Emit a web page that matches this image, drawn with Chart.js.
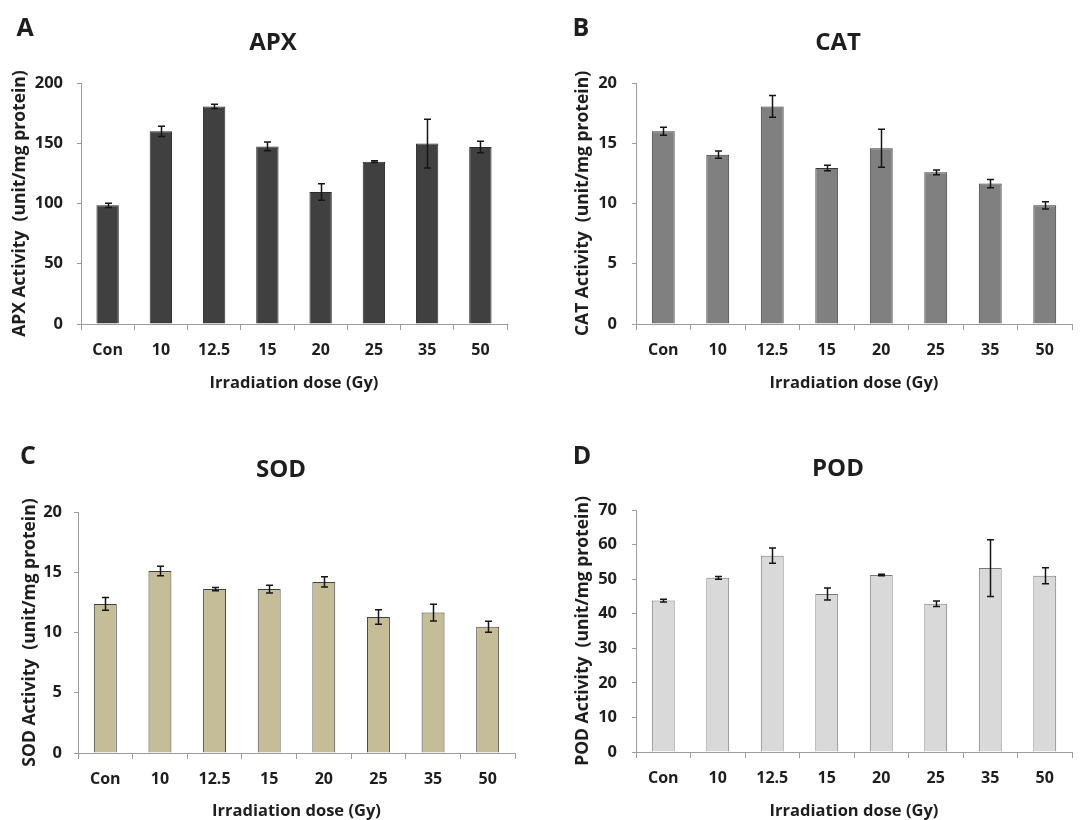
<!DOCTYPE html>
<html>
<head>
<meta charset="utf-8">
<script src="https://cdn.jsdelivr.net/npm/chart.js@4/dist/chart.umd.min.js"></script>
<style>
  html, body { margin: 0; padding: 0; background: #ffffff; }
  #wrap { position: relative; width: 1080px; height: 820px; overflow: hidden; background: #fff; }
  canvas { position: absolute; }
  .lbl { position: absolute; font-family: "Open Sans", "Noto Sans", sans-serif; font-weight: bold; color: #1e1e1e; transform: translate(-50%, -50%); white-space: nowrap; line-height: 1; }
  .letter { font-size: 25px; }
  .ttl { font-size: 24px; }
</style>
</head>
<body>
<div id="wrap">
  <canvas id="cA" width="540" height="410" style="left:0;top:0"></canvas>
  <canvas id="cB" width="540" height="410" style="left:540px;top:0"></canvas>
  <canvas id="cC" width="540" height="410" style="left:0;top:410px"></canvas>
  <canvas id="cD" width="540" height="410" style="left:540px;top:410px"></canvas>
  <div class="lbl letter" style="left:25px;top:26px">A</div>
  <div class="lbl ttl" style="left:273px;top:41px">APX</div>
  <div class="lbl letter" style="left:581px;top:26px">B</div>
  <div class="lbl ttl" style="left:838px;top:41px">CAT</div>
  <div class="lbl letter" style="left:28px;top:454px">C</div>
  <div class="lbl ttl" style="left:281px;top:468px">SOD</div>
  <div class="lbl letter" style="left:582px;top:454px">D</div>
  <div class="lbl ttl" style="left:838px;top:467px">POD</div>
</div>
<script>
// ---- data ----
const categories = ['Con', '10', '12.5', '15', '20', '25', '35', '50'];
const xAxisTitle = 'Irradiation dose (Gy)';

const apxValues = [98.5, 159.9, 180.6, 147.4, 109.5, 134.7, 149.7, 146.9];
const apxErrors = [1.8, 4.3, 1.8, 3.6, 6.8, 0.7, 20.3, 4.8];
const apxTicks = [0, 200, 50];

const catValues = [16.0, 14.05, 18.06, 12.95, 14.58, 12.59, 11.65, 9.85];
const catErrors = [0.33, 0.3, 0.9, 0.23, 1.58, 0.2, 0.35, 0.3];
const catTicks = [0, 20, 5];

const sodValues = [12.37, 15.1, 13.6, 13.6, 14.2, 11.29, 11.65, 10.48];
const sodErrors = [0.53, 0.4, 0.14, 0.33, 0.43, 0.6, 0.7, 0.46];
const sodTicks = [0, 20, 5];

const podValues = [43.8, 50.4, 56.8, 45.7, 51.2, 42.9, 53.2, 51.0];
const podErrors = [0.4, 0.4, 2.2, 1.75, 0.2, 0.8, 8.2, 2.3];
const podTicks = [0, 70, 10];

// ---- error bar plugin ----
const errorBars = {
  id: 'errorBars',
  afterDatasetsDraw(chart, args, opts) {
    const errs = opts.errors || [];
    const vals = chart.data.datasets[0].data;
    const meta = chart.getDatasetMeta(0);
    const ys = chart.scales.y;
    const ctx = chart.ctx;
    ctx.save();
    ctx.strokeStyle = '#151515';
    ctx.lineWidth = 1.5;
    meta.data.forEach((bar, i) => {
      const e = errs[i] || 0;
      const x = Math.round(bar.x) + 0.5;
      const yT = ys.getPixelForValue(vals[i] + e);
      const yB = ys.getPixelForValue(vals[i] - e);
      ctx.beginPath();
      ctx.moveTo(x, yT); ctx.lineTo(x, yB);
      ctx.moveTo(x - 3.5, yT); ctx.lineTo(x + 3.5, yT);
      ctx.moveTo(x - 3.5, yB); ctx.lineTo(x + 3.5, yB);
      ctx.stroke();
    });
    ctx.restore();
  }
};

const FONT = '"Open Sans", "Noto Sans", sans-serif';
const TXT = '#1e1e1e';
const AXC = '#9c9c9c';

function makeChart(id, values, errors, ticks, yTitle, colors, geo) {
  new Chart(document.getElementById(id), {
    type: 'bar',
    data: {
      labels: categories,
      datasets: [{
        data: values,
        backgroundColor: colors.bg,
        borderColor: colors.border,
        borderWidth: 1,
        borderSkipped: 'bottom',
        categoryPercentage: 1.0,
        barPercentage: 0.42
      }]
    },
    plugins: [errorBars],
    options: {
      responsive: false,
      animation: false,
      devicePixelRatio: 1,
      layout: { padding: { left: 0, top: geo.top, right: 540 - geo.right, bottom: 0 } },
      plugins: {
        legend: { display: false },
        tooltip: { enabled: false },
        title: { display: false },
        errorBars: { errors: errors }
      },
      scales: {
        x: {
          offset: true,
          grid: { display: true, drawOnChartArea: false, drawTicks: true, tickLength: 6, color: AXC, offset: true },
          border: { display: true, color: AXC, width: 1 },
          ticks: { color: TXT, font: { family: FONT, size: 16, weight: 'bold' }, padding: 11, maxRotation: 0, autoSkip: false },
          title: { display: true, text: xAxisTitle, color: TXT, font: { family: FONT, size: 16.5, weight: 'bold' }, padding: { top: 0, bottom: geo.xTitleOff - 9.9 } },
          afterFit(scale) { scale.height = 410 - geo.bottom; }
        },
        y: {
          min: ticks[0], max: ticks[1],
          grid: { display: true, drawOnChartArea: false, drawTicks: true, tickLength: 4, color: AXC },
          border: { display: true, color: AXC, width: 1 },
          ticks: { stepSize: ticks[2], color: TXT, font: { family: FONT, size: 16.5, weight: 'bold' }, padding: geo.yPad },
          title: { display: true, text: yTitle, color: TXT, font: { family: FONT, size: 17.5, weight: 'bold' }, padding: { top: geo.yTitleOff - 10.5, bottom: 0 } },
          afterFit(scale) { scale.width = geo.left; }
        }
      }
    }
  });
}

makeChart('cA', apxValues, apxErrors, apxTicks, 'APX Activity  (unit/mg protein)',
  { bg: '#404040', border: '#2b2b2b' },
  { left: 81, right: 507, top: 83, bottom: 324, xTitleOff: 27, yTitleOff: 20, yPad: 14 });
makeChart('cB', catValues, catErrors, catTicks, 'CAT Activity  (unit/mg protein)',
  { bg: '#808080', border: '#3a3a3a' },
  { left: 96, right: 532, top: 83, bottom: 324, xTitleOff: 27, yTitleOff: 43, yPad: 15 });
makeChart('cC', sodValues, sodErrors, sodTicks, 'SOD Activity  (unit/mg protein)',
  { bg: '#c4bd97', border: '#404040' },
  { left: 78, right: 515, top: 102, bottom: 343, xTitleOff: 9, yTitleOff: 30, yPad: 12 });
makeChart('cD', podValues, podErrors, podTicks, 'POD Activity  (unit/mg protein)',
  { bg: '#d9d9d9', border: '#7a7a7a' },
  { left: 96, right: 532, top: 100, bottom: 342, xTitleOff: 9, yTitleOff: 43, yPad: 15 });
</script>
</body>
</html>
